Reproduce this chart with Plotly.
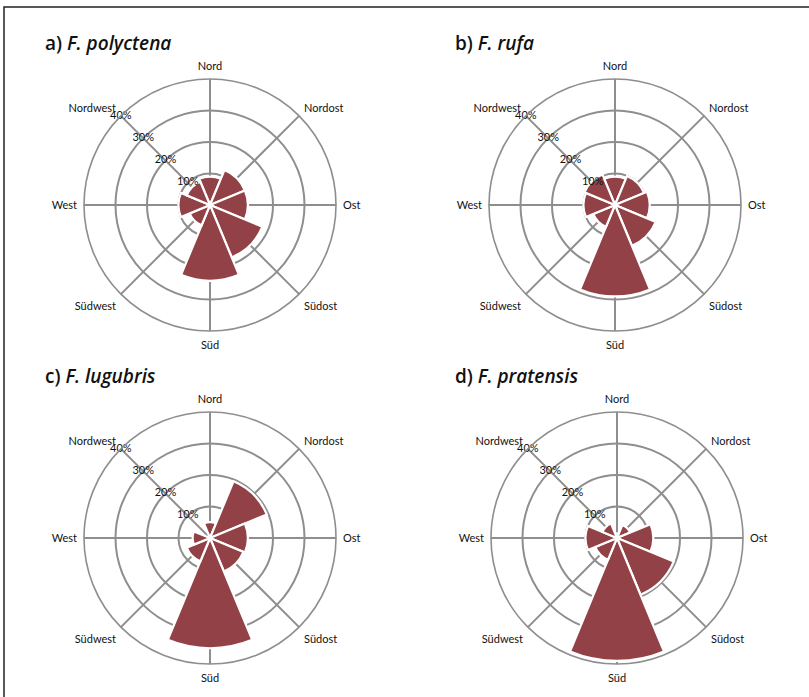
import plotly.graph_objects as go

directions = ["Nord", "Nordost", "Ost", "Südost", "Süd", "Südwest", "West", "Nordwest"]
polyctena = [9, 12, 12, 18, 24, 7, 10, 8]
rufa = [9, 10, 11, 14, 29, 7.5, 10, 10.5]
lugubris = [5, 19.5, 12, 11.5, 35, 8, 5.5, 0.5]
pratensis = [1.5, 4.5, 11.5, 19.5, 39, 7.5, 10, 5]

panel_letters = ["a)", "b)", "c)", "d)"]
species = ["F. polyctena", "F. rufa", "F. lugubris", "F. pratensis"]
series = [polyctena, rufa, lugubris, pratensis]

radial_ticks = [10, 20, 30, 40]
radial_ticktext = ["10%", "20%", "30%", "40%"]
label_direction = "Nordwest"

W, H = 809, 697
BAR = "#924246"
GRID = "#8e8e8e"
FONT = "Lato"

# panel centres (px) and radius
centres = [(210, 205), (615, 205), (210, 538), (617, 538)]
R = 126

fig = go.Figure()
layout_polars = {}
for i, (vals, (cx, cy)) in enumerate(zip(series, centres)):
    name = "polar" if i == 0 else f"polar{i+1}"
    fig.add_trace(go.Barpolar(
        r=vals, theta=directions, subplot=name,
        marker=dict(color=BAR, line=dict(color="white", width=2.2)),
        showlegend=False, hoverinfo="r+theta",
    ))
    # radial tick labels centred on the Nordwest spoke
    fig.add_trace(go.Scatterpolar(
        r=radial_ticks, theta=[label_direction] * len(radial_ticks), subplot=name,
        mode="text", text=radial_ticktext, textposition="middle center",
        textfont=dict(family=FONT, size=11, color="#111"),
        cliponaxis=False, showlegend=False, hoverinfo="skip",
    ))
    layout_polars[name] = dict(
        domain=dict(x=[(cx - R) / W, (cx + R) / W],
                    y=[(H - cy - R) / H, (H - cy + R) / H]),
        bgcolor="white",
        bargap=0,
        radialaxis=dict(range=[0, 40], tickvals=radial_ticks, showticklabels=False,
                        angle=135, showline=False, ticks="",
                        gridcolor=GRID, gridwidth=1.6),
        angularaxis=dict(rotation=90, direction="clockwise", categoryorder="array",
                         categoryarray=directions,
                         ticks="outside", ticklen=4, tickcolor="rgba(0,0,0,0)",
                         gridcolor=GRID, gridwidth=1.6,
                         showline=True, linecolor=GRID, linewidth=1.6,
                         tickfont=dict(family=FONT, size=11, color="#111")),
    )

annotations = []
title_pos = [(43, 43), (453, 43), (43, 376), (453, 376)]
for (tx, ty), let, sp in zip(title_pos, panel_letters, species):
    annotations.append(dict(
        x=tx / W, y=1 - ty / H, xref="paper", yref="paper",
        xanchor="left", yanchor="middle", showarrow=False,
        text=f"{let} <i>{sp}</i>",
        font=dict(family="Open Sans", size=19, color="#111", weight=600),
    ))

fig.update_layout(
    width=W, height=H,
    margin=dict(l=0, r=0, t=0, b=0),
    paper_bgcolor="white", plot_bgcolor="white",
    annotations=annotations,
    shapes=[dict(type="rect", xref="paper", yref="paper",
                 x0=4 / W, x1=1.02, y0=-0.02, y1=1 - 7 / H,
                 line=dict(color="#222", width=1.5))],
    **layout_polars,
)

fig.write_html("out.html", config={"displayModeBar": False},
               post_script="document.body.style.margin='0';document.body.style.overflow='hidden';")
